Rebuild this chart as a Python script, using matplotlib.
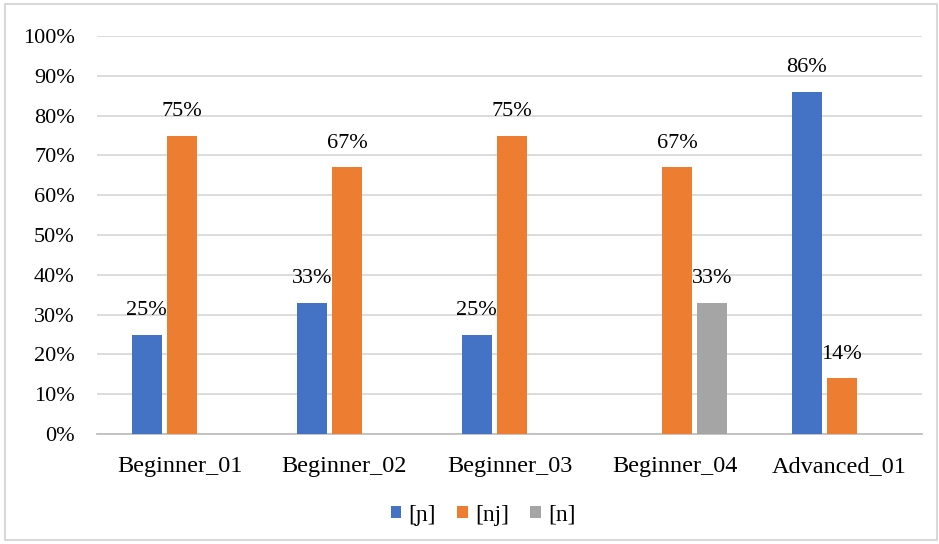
import matplotlib
matplotlib.use("Agg")
import matplotlib.pyplot as plt
import numpy as np
from matplotlib.patches import Rectangle

categories = ["Beginner_01", "Beginner_02", "Beginner_03", "Beginner_04", "Advanced_01"]
series_names = ["[ɲ]", "[nj]", "[n]"]
vals_p = [0.25, 0.33, 0.25, 0.0, 0.86]
vals_nj = [0.75, 0.67, 0.75, 0.67, 0.14]
vals_n = [0.0, 0.0, 0.0, 0.33, 0.0]
colors = ["#4472C4", "#ED7D31", "#A5A5A5"]

plt.rcParams['font.family'] = ['Liberation Serif', 'DejaVu Serif']

fig = plt.figure(figsize=(9.39, 5.44), dpi=100)
fig.patches.append(Rectangle((5/939, 4/544), 932/939, 536/544, transform=fig.transFigure,
                             fill=False, edgecolor="#D9D9D9", linewidth=1.5))
ax = fig.add_axes([97/939, 1-434/544, 825/939, 398/544])

x = np.arange(len(categories))
w = 0.185
step = 0.213
offset = 0.015
for i, (vals, name, c) in enumerate(zip([vals_p, vals_nj, vals_n], series_names, colors)):
    pos = x + (i - 1) * step + offset
    ax.bar(pos, vals, width=w, color=c, label=name, zorder=3)
    for xp, v in zip(pos, vals):
        if v > 0:
            ax.text(xp, v + 0.037, f"{round(v*100)}%", ha="center", va="bottom",
                    fontsize=16, color="#000000")

ax.set_xlim(-0.5, len(categories) - 0.5)
ax.set_ylim(0, 1.0)
ticks = np.arange(0, 1.01, 0.1)
ax.set_yticks(ticks)
ax.set_yticklabels([f"{int(round(t*100))}%" for t in ticks], fontsize=16)
ax.set_xticks(x)
ax.set_xticklabels(categories, fontsize=17.5)
ax.tick_params(axis='x', length=0, pad=16)
ax.tick_params(axis='y', length=0, pad=16)
ax.grid(axis='y', color="#D9D9D9", linewidth=1.3, zorder=0)
for s in ["top", "right", "left"]:
    ax.spines[s].set_visible(False)
ax.spines["bottom"].set_color("#BFBFBF")
ax.spines["bottom"].set_linewidth(1.3)

leg = ax.legend(loc="center", ncol=3, frameon=False,
                fontsize=17, handlelength=0.45, handleheight=0.45, handletextpad=0.3,
                columnspacing=0.9)
leg.set_bbox_to_anchor(((483-97)/825, -(515-434)/398), transform=ax.transAxes)

fig.savefig("out.png", dpi=100)
